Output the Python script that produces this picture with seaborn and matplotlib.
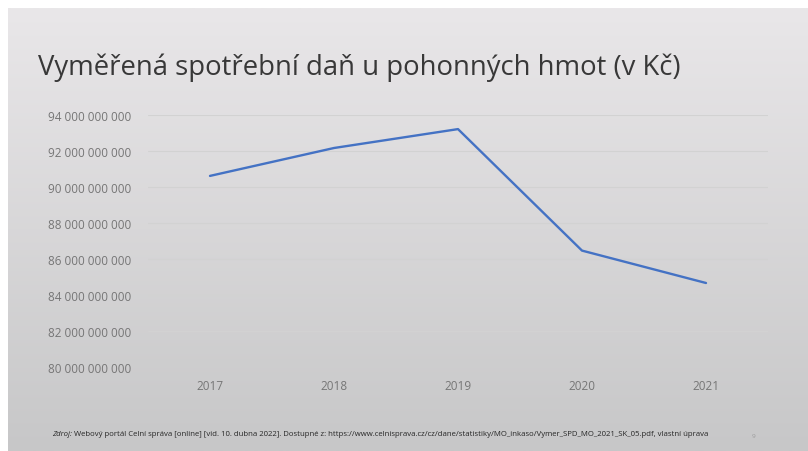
import numpy as np
import pandas as pd
import matplotlib.pyplot as plt
import seaborn as sns

# data
years = ['2017', '2018', '2019', '2020', '2021']
tax = [90.6e9, 92.15e9, 93.2e9, 86.45e9, 84.65e9]
yticks = np.arange(80e9, 94e9 + 1, 2e9)

title = 'Vyměřená spotřební daň u pohonných hmot (v Kč)'
source = ('Webový portál Celní správa [online] [vid. 10. dubna 2022]. Dostupné z: '
          'https://www.celnisprava.cz/cz/dane/statistiky/MO_inkaso/Vymer_SPD_MO_2021_SK_05.pdf, vlastní úprava')

sns.set_style('white')
plt.rcParams['font.family'] = ['Open Sans', 'DejaVu Sans']

fig = plt.figure(figsize=(8.08, 4.52), dpi=100)
fig.patch.set_facecolor('white')

# slide background with a soft vertical gradient
bg = fig.add_axes([8 / 808, 0, 800 / 808, 443 / 452])
grad = np.linspace(0, 1, 256).reshape(-1, 1)
top = np.array([233, 231, 233]) / 255
bot = np.array([199, 199, 200]) / 255
img = top + (bot - top) * grad[..., None]
bg.imshow(img, aspect='auto', extent=[0, 1, 0, 1])
bg.axis('off')

ax = fig.add_axes([148 / 808, (452 - 367.7) / 452, 620 / 808, 252 / 452])
ax.patch.set_alpha(0)

df = pd.DataFrame({'year': years, 'tax': tax})
sns.lineplot(data=df, x='year', y='tax', ax=ax, color='#4472C4', linewidth=1.7,
             sort=False)

ax.set_ylim(80e9, 94e9)
ax.set_xlim(-0.5, len(years) - 0.5)
ax.set_yticks(yticks)
ax.set_yticklabels([f'{v:,.0f}'.replace(',', ' ') for v in yticks])
ax.set_xlabel('')
ax.set_ylabel('')
ax.grid(axis='y', color='#d2d2d2', linewidth=0.8)
ax.grid(axis='x', visible=False)
for s in ax.spines.values():
    s.set_visible(False)
ax.tick_params(axis='both', length=0, colors='#767676', labelsize=8.5)
ax.tick_params(axis='y', pad=12)
ax.tick_params(axis='x', pad=9)

fig.text(38 / 808, 1 - 68 / 452, title, fontsize=19.8, color='#383838',
         va='center', ha='left')

fig.text(52 / 808, 1 - 435 / 452, 'Zdroj:', fontsize=5.6, color='#262626',
         style='italic', va='center')
fig.text(74 / 808, 1 - 435 / 452, source, fontsize=5.6, color='#262626',
         va='center')
fig.text(752 / 808, 1 - 437 / 452, '9', fontsize=4.6, color='#9a9a9a',
         va='center')

fig.savefig('out.png', dpi=100)
